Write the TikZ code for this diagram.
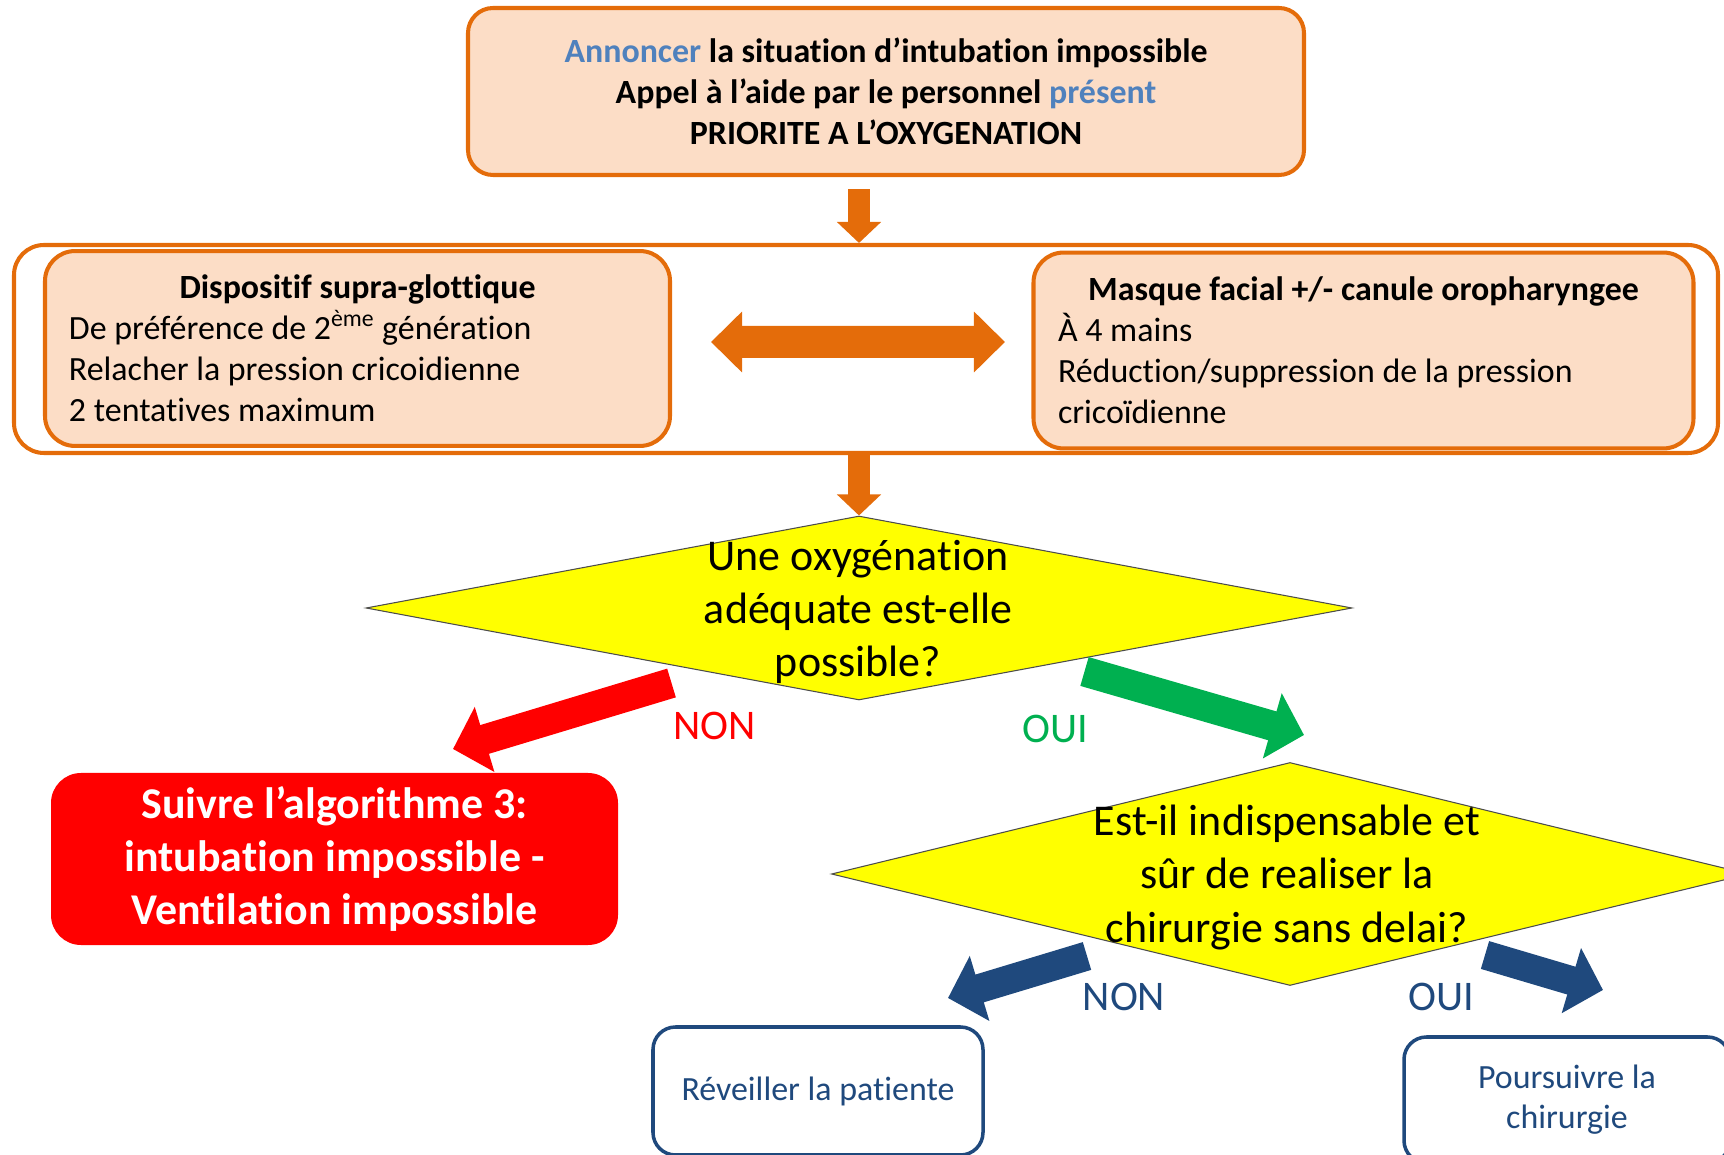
\documentclass[tikz,border=0pt]{standalone}
\usepackage{fontspec}
\setmainfont{Carlito}[Ligatures={TeX,NoCommon}]
\usepackage{xcolor}
\usepackage{tikz}
\usetikzlibrary{positioning,arrows.meta,shapes.geometric}

\definecolor{orangeA}{HTML}{E46C0A}
\definecolor{peach}{HTML}{FCDDC6}
\definecolor{bleuA}{HTML}{4F81BD}
\definecolor{navyA}{HTML}{1F497D}
\definecolor{vertA}{HTML}{00B050}
\definecolor{jauneA}{HTML}{FFFF00}

\newcommand{\fpetit}{\fontsize{19.3}{23.3}\selectfont}
\newcommand{\fgrand}{\fontsize{25}{30.2}\selectfont}

\tikzset{
	boite/.style={draw=orangeA, line width=2.3pt, fill=peach, rounded corners=0.5cm, font=\fpetit},
	cadre/.style={draw=orangeA, line width=2.3pt, rounded corners=0.6cm, minimum width=34.08cm, minimum height=4.16cm},
	losange/.style={diamond, draw=black!70, line width=0.6pt, fill=jauneA, inner sep=0pt},
	question/.style={align=center, font=\fgrand},
	reponse/.style={font=\fontsize{24}{28}\selectfont},
	issue/.style={draw=navyA, line width=2pt, rounded corners=0.45cm, fill=white, text=navyA, align=center, font=\fontsize{19.3}{22.8}\selectfont},
	descente/.style={orangeA, line width=0.44cm, -{Triangle[length=0.42cm,width=0.86cm]}},
	grosse/.style={line width=0.6cm, -{Triangle[length=0.66cm,width=1.32cm]}}
}

\begin{document}
\begin{tikzpicture}
	\useasboundingbox (0,0) rectangle (34.48,23.08);
	\clip (0,0) rectangle (34.48,23.08);

	% boite du haut
	\node[boite, minimum width=16.72cm, minimum height=3.34cm, align=center, font=\fpetit\bfseries] (annonce) at (17.72,21.25)
	{\textcolor{bleuA}{Annoncer} la situation d’intubation impossible\\ Appel à l’aide par le personnel \textcolor{bleuA}{présent}\\ PRIORITE A L’OXYGENATION};

	% cadre avec les deux techniques
	\node[cadre] (cadre) at (17.32,16.1) {};
	\node[boite, rounded corners=0.6cm, minimum height=3.74cm, inner sep=0.48cm, text width=11.54cm, align=flush left] (dispositif) at (7.15,16.11)
	{\makebox[\hsize]{\bfseries Dispositif supra-glottique}\\ De préférence de 2\textsuperscript{ème} génération\\ Relacher la pression cricoidienne\\ 2 tentatives maximum};
	\node[boite, rounded corners=0.6cm, minimum height=3.7cm, inner sep=0.49cm, text width=12.22cm, align=flush left] (masque) at (27.27,16.07)
	{\makebox[\hsize]{\bfseries Masque facial +/- canule oropharyngee}\\ À 4 mains\\ Réduction/suppression de la pression\\ cricoïdienne};
	\draw[orangeA, line width=0.64cm, {Triangle[length=0.62cm,width=1.18cm]}-{Triangle[length=0.62cm,width=1.18cm]}]
	([xshift=0.78cm,yshift=0.13cm]dispositif.east) -- ([xshift=-0.53cm,yshift=0.17cm]masque.west);

	% premiere question
	\node[losange, minimum width=19.72cm, minimum height=3.68cm] (oxy) at (17.18,10.92) {};
	\node[question] (oxytxt) at (17.16,10.85) {Une oxygénation\\ adéquate est-elle\\ possible?};

	\draw[descente, shorten <=0.24cm] (annonce.south -| oxy.north) -- (cadre.north -| oxy.north);
	\draw[descente] (cadre.south -| oxy.north) -- (oxy.north);

	% branche NON
	\node[fill=red, rounded corners=0.6cm, minimum width=11.34cm, minimum height=3.44cm, text=white, align=center, font=\fgrand\bfseries] (algo) at (6.69,5.9)
	{Suivre l’algorithme 3:\\ intubation impossible -\\ Ventilation impossible};
	\coordinate (non1a) at (13.43,9.42);
	\coordinate (non1b) at (9.06,8.10);
	\draw[grosse, red] (non1a) -- (non1b);
	\node[reponse, text=red] (non1) at (14.29,8.57) {NON};

	% branche OUI
	\node[losange, minimum width=18.34cm, minimum height=4.46cm] (chir) at (25.8,5.6) {};
	\node[question] (chirtxt) at (25.74,5.53) {Est-il indispensable et\\ sûr de realiser la\\ chirurgie sans delai?};
	\coordinate (oui1a) at (21.69,9.65);
	\coordinate (oui1b) at (26.08,8.38);
	\draw[grosse, vertA] (oui1a) -- (oui1b);
	\node[reponse, text=vertA] (oui1) at (21.11,8.5) {OUI};

	% fin
	\node[issue, minimum width=6.6cm, minimum height=2.56cm] (reveil) at (16.36,1.26) {Réveiller la patiente};
	\node[issue, minimum width=6.52cm, minimum height=2.52cm] (poursuite) at (31.34,1.08) {Poursuivre la\\ chirurgie};
	\coordinate (non2a) at (21.74,3.96);
	\coordinate (non2b) at (18.96,3.12);
	\coordinate (oui2a) at (29.7,3.98);
	\coordinate (oui2b) at (32.06,3.28);
	\draw[grosse, navyA, line width=0.58cm] (non2a) -- (non2b);
	\draw[grosse, navyA, line width=0.58cm] (oui2a) -- (oui2b);
	\node[reponse, text=navyA] (non2) at (22.48,3.14) {NON};
	\node[reponse, text=navyA] (oui2) at (28.82,3.14) {OUI};
\end{tikzpicture}
\end{document}
